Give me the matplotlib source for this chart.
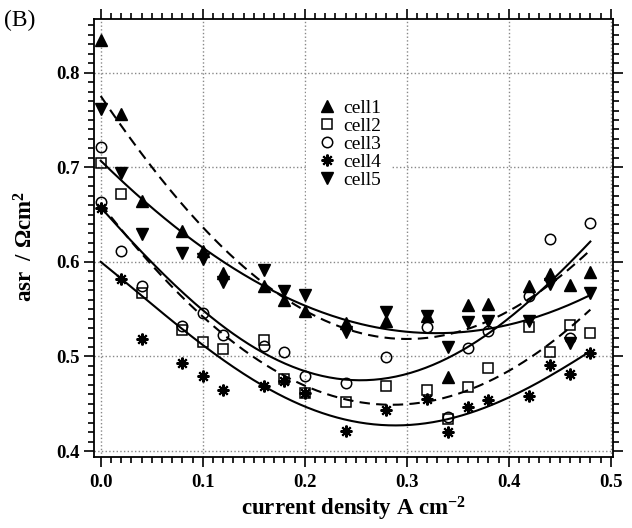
import numpy as np
import matplotlib
matplotlib.use("Agg")
import matplotlib.pyplot as plt
from matplotlib.ticker import MultipleLocator

plt.rcParams['font.family'] = ['Liberation Serif', 'DejaVu Serif']
plt.rcParams['mathtext.fontset'] = 'custom'
plt.rcParams['mathtext.rm'] = 'Liberation Serif:bold'
plt.rcParams['mathtext.bf'] = 'Liberation Serif:bold'
plt.rcParams['mathtext.it'] = 'Liberation Serif:bold'

# ---- data ----
current = [0.00, 0.02, 0.04, 0.08, 0.10, 0.12, 0.16, 0.18, 0.20, 0.24,
           0.28, 0.32, 0.34, 0.36, 0.38, 0.42, 0.44, 0.46, 0.48]
cell1 = [0.835, 0.756, 0.664, 0.633, 0.611, 0.588, 0.574, 0.560, 0.548, 0.535,
         0.538, 0.543, 0.478, 0.554, 0.555, 0.575, 0.587, 0.576, 0.589]
cell2 = [0.705, 0.672, 0.567, 0.528, 0.515, 0.508, 0.517, 0.476, 0.461, 0.452,
         0.469, 0.465, 0.434, 0.468, 0.488, 0.531, 0.505, 0.533, 0.525]
cell3 = [0.721, 0.612, 0.574, 0.532, 0.546, 0.523, 0.511, 0.505, 0.479, 0.472,
         0.499, 0.531, 0.436, 0.509, 0.527, 0.564, 0.624, 0.519, 0.641]
cell4 = [0.657, 0.582, 0.518, 0.493, 0.479, 0.465, 0.469, 0.474, 0.461, 0.421,
         0.443, 0.455, 0.420, 0.447, 0.454, 0.458, 0.491, 0.481, 0.504]
cell5 = [0.762, 0.694, 0.629, 0.609, 0.603, 0.579, 0.591, 0.569, 0.565, 0.526,
         0.547, 0.543, 0.510, 0.536, 0.537, 0.537, 0.577, 0.514, 0.567]
# an additional cell3 reading at zero current
cell3_extra_x = [0.0]
cell3_extra_y = [0.663]

# fitted curves, read at a few positions
fit1_x = [0.0, 0.03, 0.06, 0.10, 0.135, 0.171, 0.20, 0.235, 0.30, 0.342, 0.38, 0.42, 0.48]
fit1_y = [0.776, 0.730, 0.683, 0.638, 0.600, 0.569, 0.549, 0.533, 0.517, 0.522, 0.535, 0.566, 0.611]
fit5_x = [0.0, 0.04, 0.08, 0.12, 0.16, 0.20, 0.235, 0.30, 0.342, 0.38, 0.42, 0.48]
fit5_y = [0.708, 0.664, 0.632, 0.602, 0.575, 0.552, 0.540, 0.526, 0.526, 0.529, 0.539, 0.565]
fit3_x = [0.0, 0.03, 0.06, 0.10, 0.156, 0.215, 0.258, 0.30, 0.342, 0.38, 0.42, 0.48]
fit3_y = [0.657, 0.623, 0.590, 0.546, 0.507, 0.480, 0.477, 0.480, 0.498, 0.524, 0.560, 0.621]
fit2_x = [0.0, 0.03, 0.06, 0.10, 0.146, 0.215, 0.277, 0.313, 0.342, 0.362, 0.40, 0.442, 0.482]
fit2_y = [0.660, 0.622, 0.587, 0.543, 0.500, 0.461, 0.449, 0.453, 0.459, 0.466, 0.485, 0.510, 0.554]
fit4_x = [0.0, 0.02, 0.06, 0.10, 0.146, 0.215, 0.28, 0.342, 0.42, 0.48]
fit4_y = [0.600, 0.581, 0.548, 0.515, 0.475, 0.438, 0.429, 0.438, 0.463, 0.507]

xticks = [0.0, 0.1, 0.2, 0.3, 0.4, 0.5]
yticks = [0.4, 0.5, 0.6, 0.7, 0.8]

fig = plt.figure(figsize=(6.32, 5.28), dpi=100)
ax = fig.add_axes([0.1487, 0.1339, 0.8217, 0.8295])

def draw_fit(xs, ys, style):
    c = np.polyfit(xs, ys, 4)
    xx = np.linspace(0.0, 0.48, 200)
    if style == 'dashed':
        ax.plot(xx, np.polyval(c, xx), color='black', lw=1.5, ls=(0, (5, 3)), zorder=2)
    else:
        ax.plot(xx, np.polyval(c, xx), color='black', lw=1.5, ls='-', zorder=2)

draw_fit(fit1_x, fit1_y, 'dashed')
draw_fit(fit5_x, fit5_y, 'solid')
draw_fit(fit3_x, fit3_y, 'solid')
draw_fit(fit2_x, fit2_y, 'dashed')
draw_fit(fit4_x, fit4_y, 'solid')

ax.plot(current, cell1, ls='none', marker='^', ms=8.5, mfc='black', mec='black', label='cell1', zorder=3)
ax.plot(current, cell2, ls='none', marker='s', ms=7, mfc='none', mec='black', mew=1.1, label='cell2', zorder=3)
ax.plot(current, cell3, ls='none', marker='o', ms=7.5, mfc='none', mec='black', mew=1.1, label='cell3', zorder=3)
ax.plot(current, cell4, ls='none', marker=(8, 2, 0), ms=8.5, mec='black', mew=1.5, label='cell4', zorder=3)
ax.plot(current, cell5, ls='none', marker='v', ms=8.5, mfc='black', mec='black', label='cell5', zorder=3)
ax.plot(cell3_extra_x, cell3_extra_y, ls='none', marker='o', ms=7.5, mfc='none', mec='black', mew=1.1, zorder=3)

ax.set_xlim(-0.0066, 0.5025)
ax.set_ylim(0.3934, 0.8564)
ax.set_xticks(xticks)
ax.set_yticks(yticks)
ax.set_xticklabels([f'{v:.1f}' for v in xticks], fontweight='bold', fontsize=13.5)
ax.set_yticklabels([f'{v:.1f}' for v in yticks], fontweight='bold', fontsize=13.5)
ax.xaxis.set_minor_locator(MultipleLocator(0.01))
ax.yaxis.set_minor_locator(MultipleLocator(0.01))
ax.tick_params(which='both', direction='out', top=True, right=True, width=1.2)
ax.tick_params(which='major', length=7)
ax.tick_params(axis='y', which='major', pad=3)
ax.tick_params(axis='x', which='major', pad=5)
ax.tick_params(which='minor', length=4)
for s in ax.spines.values():
    s.set_linewidth(1.3)
ax.grid(True, which='major', ls=':', color='#888888', lw=1.0)
ax.set_axisbelow(True)

ax.set_xlabel('current density A cm$^{-2}$', fontweight='bold', fontsize=16.5, labelpad=3)
ax.set_ylabel('asr  / $\\Omega$cm$^{2}$', fontweight='bold', fontsize=16.5)
ax.yaxis.set_label_coords(-0.108, 0.482)

leg = ax.legend(loc='upper left', bbox_to_anchor=(0.39, 0.862), frameon=True,
                fontsize=14, handletextpad=0.3, labelspacing=0.02,
                borderpad=0.5, handlelength=1.1, fancybox=False)
leg.get_frame().set_edgecolor('none')
leg.get_frame().set_facecolor('white')
leg.get_frame().set_alpha(1.0)

fig.text(0.006, 0.962, '(B)', fontsize=17, va='center', ha='left')

fig.savefig('out.png', dpi=100)
